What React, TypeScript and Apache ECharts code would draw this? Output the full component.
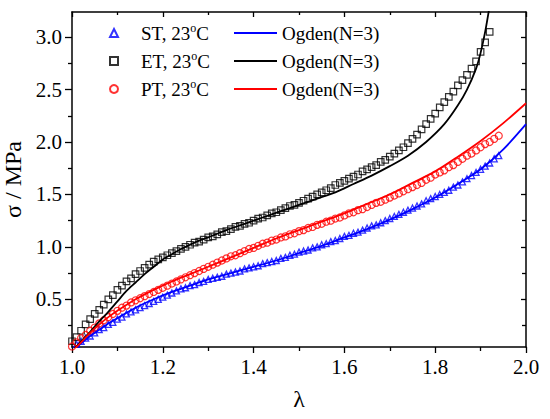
import React, { useEffect, useRef } from "react";
import * as echarts from "echarts";

// ---- Data ----
const stLambda = [1.00,1.01,1.02,1.03,1.04,1.05,1.06,1.07,1.08,1.09,1.10,1.11,1.12,1.13,1.14,1.15,1.16,1.17,1.18,1.19,1.20,1.21,1.22,1.23,1.24,1.25,1.26,1.27,1.28,1.29,1.30,1.31,1.32,1.33,1.34,1.35,1.36,1.37,1.38,1.39,1.40,1.41,1.42,1.43,1.44,1.45,1.46,1.47,1.48,1.49,1.50,1.51,1.52,1.53,1.54,1.55,1.56,1.57,1.58,1.59,1.60,1.61,1.62,1.63,1.64,1.65,1.66,1.67,1.68,1.69,1.70,1.71,1.72,1.73,1.74,1.75,1.76,1.77,1.78,1.79,1.80,1.81,1.82,1.83,1.84,1.85,1.86,1.87,1.88,1.89,1.90,1.91,1.92,1.93,1.94];
const stSigma = [0.04,0.07,0.10,0.13,0.15,0.18,0.21,0.23,0.26,0.28,0.31,0.33,0.36,0.38,0.40,0.42,0.44,0.46,0.48,0.50,0.52,0.54,0.56,0.58,0.60,0.61,0.63,0.64,0.66,0.67,0.69,0.70,0.71,0.72,0.74,0.75,0.76,0.77,0.79,0.80,0.81,0.82,0.84,0.85,0.86,0.87,0.89,0.90,0.92,0.93,0.95,0.96,0.97,0.99,1.00,1.02,1.03,1.05,1.06,1.08,1.10,1.11,1.13,1.14,1.16,1.18,1.20,1.21,1.23,1.25,1.27,1.29,1.31,1.33,1.35,1.37,1.39,1.41,1.44,1.46,1.48,1.50,1.52,1.54,1.57,1.59,1.62,1.65,1.68,1.71,1.74,1.77,1.80,1.84,1.87];

const etLambda = [1.00,1.01,1.02,1.03,1.04,1.05,1.06,1.07,1.08,1.09,1.10,1.11,1.12,1.13,1.14,1.15,1.16,1.17,1.18,1.19,1.20,1.21,1.22,1.23,1.24,1.25,1.26,1.27,1.28,1.29,1.30,1.31,1.32,1.33,1.34,1.35,1.36,1.37,1.38,1.39,1.40,1.41,1.42,1.43,1.44,1.45,1.46,1.47,1.48,1.49,1.50,1.51,1.52,1.53,1.54,1.55,1.56,1.57,1.58,1.59,1.60,1.61,1.62,1.63,1.64,1.65,1.66,1.67,1.68,1.69,1.70,1.71,1.72,1.73,1.74,1.75,1.76,1.77,1.78,1.79,1.80,1.81,1.82,1.83,1.84,1.85,1.86,1.87,1.88,1.89,1.90,1.91,1.92];
const etSigma = [0.10,0.14,0.20,0.26,0.31,0.36,0.40,0.45,0.50,0.54,0.59,0.63,0.67,0.70,0.74,0.77,0.80,0.83,0.86,0.88,0.90,0.92,0.94,0.96,0.98,1.00,1.02,1.04,1.05,1.07,1.09,1.10,1.12,1.14,1.15,1.17,1.19,1.20,1.22,1.23,1.25,1.27,1.28,1.30,1.32,1.33,1.35,1.37,1.39,1.40,1.42,1.44,1.46,1.48,1.50,1.52,1.54,1.56,1.59,1.61,1.63,1.65,1.67,1.69,1.72,1.74,1.76,1.78,1.81,1.83,1.86,1.89,1.92,1.95,1.99,2.03,2.07,2.12,2.17,2.22,2.27,2.33,2.38,2.43,2.48,2.54,2.59,2.64,2.70,2.77,2.86,2.95,3.05];

const ptLambda = [1.00,1.01,1.02,1.03,1.04,1.05,1.06,1.07,1.08,1.09,1.10,1.11,1.12,1.13,1.14,1.15,1.16,1.17,1.18,1.19,1.20,1.21,1.22,1.23,1.24,1.25,1.26,1.27,1.28,1.29,1.30,1.31,1.32,1.33,1.34,1.35,1.36,1.37,1.38,1.39,1.40,1.41,1.42,1.43,1.44,1.45,1.46,1.47,1.48,1.49,1.50,1.51,1.52,1.53,1.54,1.55,1.56,1.57,1.58,1.59,1.60,1.61,1.62,1.63,1.64,1.65,1.66,1.67,1.68,1.69,1.70,1.71,1.72,1.73,1.74,1.75,1.76,1.77,1.78,1.79,1.80,1.81,1.82,1.83,1.84,1.85,1.86,1.87,1.88,1.89,1.90,1.91,1.92,1.93,1.94];
const ptSigma = [0.05,0.09,0.13,0.16,0.20,0.23,0.27,0.30,0.33,0.36,0.39,0.42,0.44,0.47,0.49,0.51,0.53,0.55,0.57,0.59,0.61,0.63,0.65,0.67,0.69,0.71,0.73,0.75,0.77,0.79,0.81,0.83,0.85,0.87,0.89,0.91,0.92,0.94,0.96,0.98,0.99,1.01,1.03,1.04,1.06,1.07,1.09,1.10,1.12,1.13,1.15,1.16,1.18,1.19,1.21,1.22,1.24,1.25,1.27,1.28,1.30,1.32,1.33,1.35,1.36,1.38,1.40,1.42,1.43,1.45,1.47,1.49,1.51,1.53,1.55,1.57,1.59,1.61,1.64,1.66,1.69,1.71,1.73,1.76,1.78,1.81,1.84,1.87,1.89,1.92,1.95,1.98,2.00,2.03,2.06];

const fitStLambda = [1.00,1.02,1.04,1.06,1.08,1.10,1.14,1.18,1.22,1.26,1.30,1.35,1.40,1.45,1.50,1.55,1.60,1.65,1.70,1.75,1.80,1.85,1.90,1.95,2.00];
const fitStSigma = [0.00,0.08,0.15,0.21,0.27,0.32,0.42,0.50,0.57,0.63,0.69,0.75,0.81,0.87,0.94,1.01,1.09,1.17,1.26,1.36,1.47,1.60,1.74,1.93,2.17];

const fitEtLambda = [1.00,1.02,1.04,1.06,1.08,1.10,1.12,1.14,1.16,1.18,1.20,1.22,1.24,1.26,1.28,1.30,1.34,1.38,1.42,1.46,1.50,1.54,1.58,1.62,1.66,1.70,1.74,1.78,1.82,1.85,1.87,1.89,1.90,1.91,1.92];
const fitEtSigma = [0.00,0.10,0.19,0.29,0.38,0.48,0.58,0.66,0.74,0.81,0.88,0.93,0.98,1.02,1.06,1.09,1.16,1.22,1.28,1.34,1.40,1.46,1.52,1.60,1.68,1.77,1.87,2.00,2.17,2.35,2.50,2.70,2.85,3.05,3.30];

const fitPtLambda = [1.00,1.02,1.04,1.06,1.08,1.10,1.14,1.18,1.22,1.26,1.30,1.35,1.40,1.45,1.50,1.55,1.60,1.65,1.70,1.75,1.80,1.85,1.90,1.95,2.00];
const fitPtSigma = [0.00,0.09,0.18,0.26,0.33,0.39,0.50,0.59,0.67,0.74,0.81,0.90,0.99,1.08,1.16,1.24,1.32,1.41,1.50,1.61,1.72,1.86,2.01,2.18,2.37];

const yMajorTicks = [0.5, 1.0, 1.5, 2.0, 2.5, 3.0];
const yMinorTicks = [0.25, 0.75, 1.25, 1.75, 2.25, 2.75];

const legendNames: Record<string, string> = {
  ST: "{pad|}ST, 23{sup|o}C",
  ET: "{pad|}ET, 23{sup|o}C",
  PT: "{pad|}PT, 23{sup|o}C",
  "Ogden ST": "Ogden(N=3)",
  "Ogden ET": "Ogden(N=3)",
  "Ogden PT": "Ogden(N=3)",
};

const zip = (a: number[], b: number[]) => a.map((v, i) => [v, b[i]]);

const FONT = "Liberation Serif";

export default function App() {
  const ref = useRef<HTMLDivElement>(null);
  useEffect(() => {
    if (!ref.current) return;
    const chart = echarts.init(ref.current, undefined, { renderer: "svg" });
    const axisLine = { show: true, lineStyle: { color: "#000", width: 1.5 } };
    const yBase = { type: "value" as const, min: 0.045, max: 3.24, splitLine: { show: false } };
    const legendText = {
      fontFamily: FONT,
      fontSize: 19,
      color: "#000",
      lineHeight: 22,
      rich: {
        pad: { width: 18, lineHeight: 22 },
        sup: { fontFamily: FONT, fontSize: 12, color: "#000", verticalAlign: "top", lineHeight: 22 },
      },
    };
    chart.setOption({
      animation: false,
      backgroundColor: "#fff",
      textStyle: { fontFamily: FONT },
      grid: { left: 72, right: 24, top: 12, bottom: 72, containLabel: false, outerBoundsMode: "none" },
      legend: [
        {
          data: [
            { name: "ST", icon: "triangle" },
            { name: "ET", icon: "rect" },
            { name: "PT", icon: "circle" },
          ],
          orient: "vertical",
          left: 109,
          top: 22,
          padding: 0,
          itemGap: 6,
          itemWidth: 8,
          itemHeight: 8,
          selectedMode: false,
          formatter: (n: string) => legendNames[n],
          textStyle: legendText,
        },
        {
          data: [
            { name: "Ogden ST", icon: "rect" },
            { name: "Ogden ET", icon: "rect" },
            { name: "Ogden PT", icon: "rect" },
          ],
          orient: "vertical",
          left: 234,
          top: 22,
          padding: 0,
          itemGap: 6,
          itemWidth: 43,
          itemHeight: 2,
          selectedMode: false,
          formatter: (n: string) => legendNames[n],
          textStyle: legendText,
        },
      ],
      xAxis: [
        {
          type: "value",
          position: "bottom",
          min: 1,
          max: 2,
          interval: 0.2,
          axisLine,
          splitLine: { show: false },
          axisTick: { show: true, inside: false, length: 6, lineStyle: { color: "#000", width: 1.3 } },
          minorTick: { show: true, splitNumber: 2, length: 4, lineStyle: { color: "#000", width: 1.3 } },
          minorSplitLine: { show: false },
          axisLabel: { fontFamily: FONT, fontSize: 21, color: "#000", margin: 9, formatter: (v: number) => v.toFixed(1) },
          name: "λ",
          nameLocation: "middle",
          nameGap: 40,
          nameTextStyle: { fontFamily: FONT, fontSize: 24, color: "#000" },
        },
        {
          type: "value",
          position: "top",
          min: 1,
          max: 2,
          interval: 0.2,
          axisLine,
          splitLine: { show: false },
          axisTick: { show: true, inside: true, length: 5, lineStyle: { color: "#000", width: 1.3 } },
          minorTick: { show: true, splitNumber: 2, length: 3, lineStyle: { color: "#000", width: 1.3 } },
          axisLabel: { show: false },
        },
      ],
      yAxis: [
        {
          ...yBase,
          position: "left",
          axisLine,
          axisTick: { show: true, inside: false, length: 7, customValues: yMajorTicks, lineStyle: { color: "#000", width: 1.3 } },
          axisLabel: { fontFamily: FONT, fontSize: 21, color: "#000", margin: 10, customValues: yMajorTicks, formatter: (v: number) => v.toFixed(1) },
          name: "σ / MPa",
          nameLocation: "middle",
          nameGap: 42,
          nameTextStyle: { fontFamily: FONT, fontSize: 24, color: "#000" },
        },
        {
          ...yBase,
          position: "left",
          axisLine: { show: false },
          axisTick: { show: true, inside: false, length: 4, customValues: yMinorTicks, lineStyle: { color: "#000", width: 1.3 } },
          axisLabel: { show: false },
        },
        {
          ...yBase,
          position: "right",
          axisLine,
          axisTick: { show: true, inside: true, length: 5, customValues: yMajorTicks, lineStyle: { color: "#000", width: 1.3 } },
          axisLabel: { show: false },
        },
        {
          ...yBase,
          position: "right",
          axisLine: { show: false },
          axisTick: { show: true, inside: true, length: 4, customValues: yMinorTicks, lineStyle: { color: "#000", width: 1.3 } },
          axisLabel: { show: false },
        },
      ],
      series: [
        {
          name: "ST",
          type: "scatter",
          data: zip(stLambda, stSigma),
          symbol: "triangle",
          symbolSize: 6,
          itemStyle: { color: "rgba(0,0,0,0)", borderColor: "#0000ff", borderWidth: 1.3 },
        },
        {
          name: "ET",
          type: "scatter",
          data: zip(etLambda, etSigma),
          symbol: "rect",
          symbolSize: 6.5,
          itemStyle: { color: "rgba(0,0,0,0)", borderColor: "#000", borderWidth: 1.2 },
        },
        {
          name: "PT",
          type: "scatter",
          data: zip(ptLambda, ptSigma),
          symbol: "circle",
          symbolSize: 7,
          itemStyle: { color: "rgba(0,0,0,0)", borderColor: "#ff0000", borderWidth: 1.2 },
        },
        {
          name: "Ogden ST",
          type: "line",
          data: zip(fitStLambda, fitStSigma),
          symbol: "none",
          smooth: 0.3,
          clip: true,
          lineStyle: { color: "#0000ff", width: 1.8 },
          itemStyle: { color: "#0000ff" },
        },
        {
          name: "Ogden ET",
          type: "line",
          data: zip(fitEtLambda, fitEtSigma),
          symbol: "none",
          smooth: 0.3,
          clip: true,
          lineStyle: { color: "#000", width: 1.8 },
          itemStyle: { color: "#000" },
        },
        {
          name: "Ogden PT",
          type: "line",
          data: zip(fitPtLambda, fitPtSigma),
          symbol: "none",
          smooth: 0.3,
          clip: true,
          lineStyle: { color: "#ff0000", width: 1.8 },
          itemStyle: { color: "#ff0000" },
        },
      ],
    });
    return () => chart.dispose();
  }, []);
  return (
    <div
      ref={ref}
      style={{ position: "fixed", left: 0, top: 0, width: 550, height: 419, background: "#fff" }}
    />
  );
}
